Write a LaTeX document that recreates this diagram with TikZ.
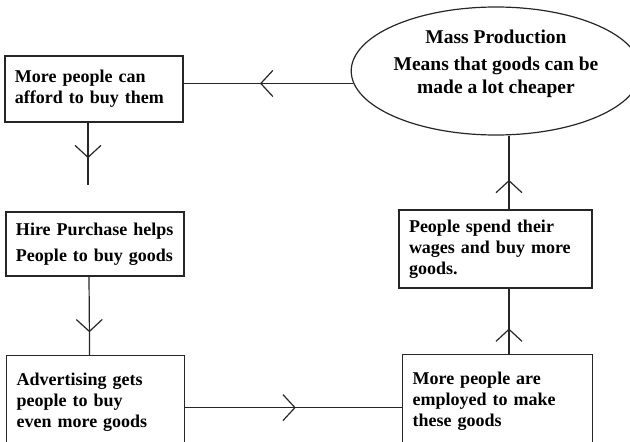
\documentclass[tikz,border=0pt]{standalone}
\usepackage{fontspec}
\setmainfont{Liberation Serif}
\usetikzlibrary{shapes.geometric, arrows.meta, decorations.markings}

\tikzset{
  box/.style={draw=black!85, line width=1.2pt, rectangle, align=left, inner xsep=10pt,
    font=\fontsize{18}{21}\selectfont\bfseries},
  bubble/.style={draw=black!85, line width=1.2pt, ellipse, inner sep=0pt,
    minimum width=262pt, minimum height=128pt, align=center,
    font=\fontsize{19.5}{23}\selectfont\bfseries},
  link/.style={black!85, line width=1.2pt},
  midarrow/.style={link, postaction={decorate}, decoration={markings,
    mark=at position #1 with {\arrow{Straight Barb[length=12pt,width=26pt]}}}}
}

\begin{document}
\begin{tikzpicture}[x=1pt, y=-1pt]
\useasboundingbox (0,0) rectangle (630,442);
\clip (0,0) rectangle (630,442);

% left column
\node[box, text width=158pt, minimum height=66pt] (afford) at (94,89) {More people can\\afford to buy them};
\node[box, text width=158pt, minimum height=64pt] (hire) at (95,244) {Hire Purchase helps\\[5pt]People to buy goods};
\node[box, text width=158pt, minimum height=94pt, anchor=north west] (advert) at (6,355) {Advertising gets\\people to buy\\even more goods};

% right column
\node[bubble] (mass) at (496,71) {Mass Production\\[4pt]Means that goods can be\\made a lot cheaper\\[-5pt]};
\node[box, text width=173pt, minimum height=78pt] (spend) at (495.5,249) {People spend their\\wages and buy more\\goods.};
\node[box, text width=170pt, minimum height=94pt, anchor=north west] (employ) at (402,354) {More people are\\employed to make\\these goods};

\coordinate (gap) at (88,185);
\coordinate (up) at (509,0);

% the cycle
\draw[midarrow=0.55] (mass.185) -- (mass.185 -| afford.east);
\draw[midarrow=0.57] ([xshift=-6pt]afford.south) -- (gap);
\draw[midarrow=0.71] ([xshift=-6pt]hire.south) -- ([xshift=-6pt]advert.north);
\draw[midarrow=0.51] ([yshift=-5pt]advert.east) -- ([yshift=-5pt]advert.east -| employ.west);
\draw[midarrow=0.39] (employ.north -| up) -- (spend.south -| up);
\draw[midarrow=0.4] (spend.north -| up) -- (up |- mass.south);
\end{tikzpicture}
\end{document}
